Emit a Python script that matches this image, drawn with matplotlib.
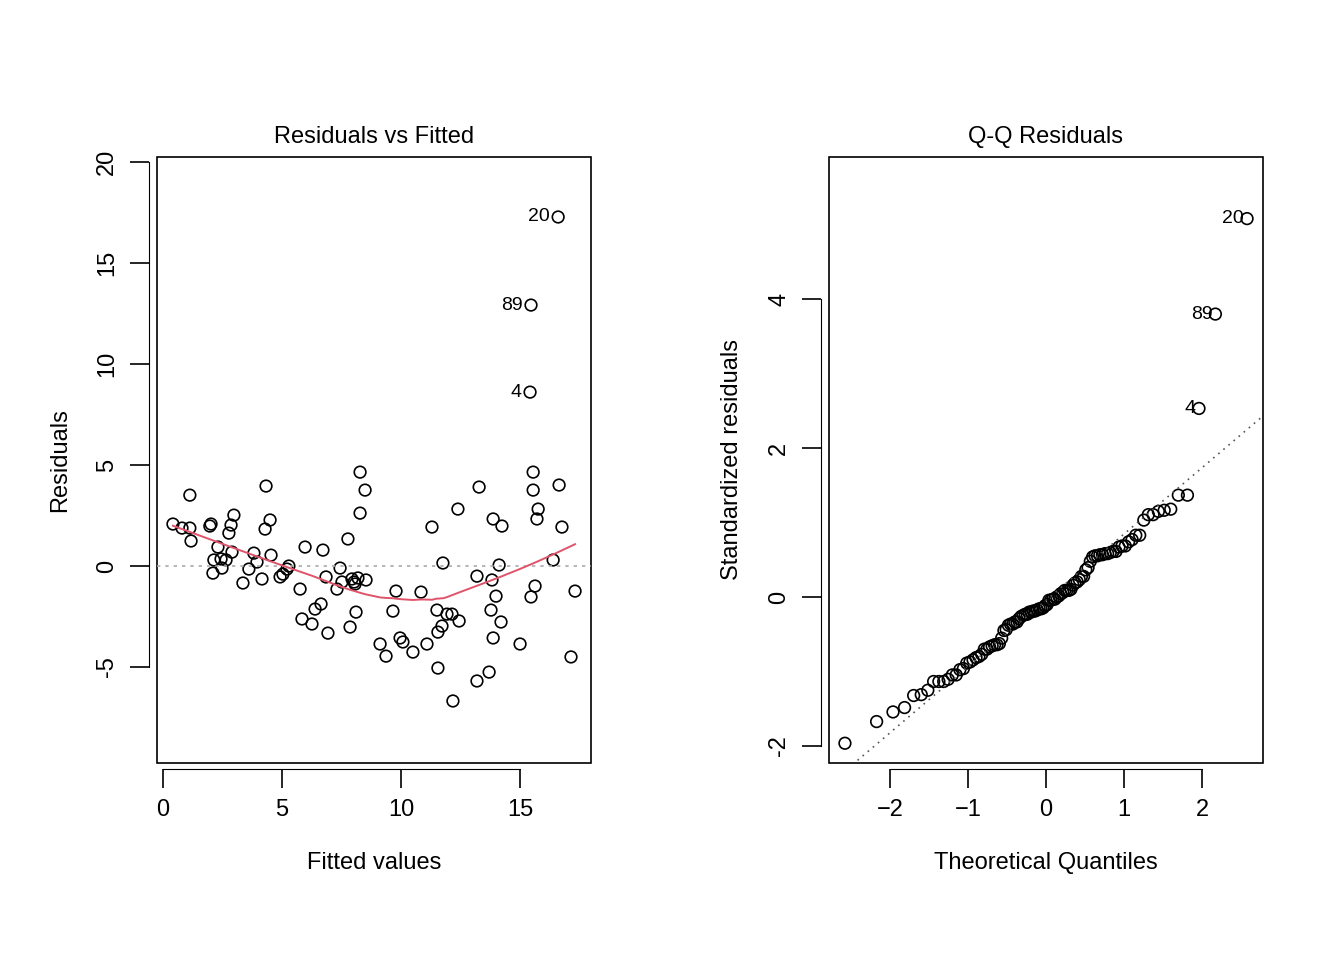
import numpy as np
import matplotlib
matplotlib.use("Agg")
import matplotlib.pyplot as plt
from matplotlib.patches import Rectangle
from statistics import NormalDist

plt.rcParams['font.family'] = ['Liberation Sans', 'DejaVu Sans']

# pixel-read points converted to data units
px = [173,182,190,191,190,210,211,213,214,218,221,222,226,229,231,234,232,243,249,254,257,262,265,266,270,271,280,283,287,289,300,302,305,312,315,321,323,326,328,337,340,342,348,350,352,354,355,356,358,360,360,365,366,
      380,386,393,396,400,403,413,421,427,432,438,437,438,442,443,447,452,453,458,459,477,477,479,489,491,492,493,493,496,499,501,502,520,531,533,533,535,538,537,553,559,562,571,575,
      558,531,530]
py = [525,529,529,542,496,527,525,574,561,548,560,569,561,534,526,516,553,584,570,554,563,580,530,487,521,556,578,575,570,567,590,620,548,625,610,605,551,578,634,590,569,583,540,628,580,583,585,613,579,473,514,491,581,
      645,657,612,592,639,643,653,593,645,528,669,611,633,627,564,615,615,702,510,622,682,577,488,673,611,581,639,520,597,566,623,527,645,598,473,491,587,510,520,561,486,528,658,592,
      218,306,393]
fitted = [round((p - 163) / 23.8, 2) for p in px]
resid = [round((567 - q) / 20.2, 2) for q in py]
fitted = np.array(fitted); resid = np.array(resid)
n = len(resid)
labels = {n - 3: "20", n - 2: "89", n - 1: "4"}

def lowess(x, y, f=2/3, iters=3):
    n = len(x); o = np.argsort(x); x = x[o]; y = y[o]
    k = int(np.ceil(f * n)); rw = np.ones(n); ys = np.zeros(n)
    for it in range(iters + 1):
        for i in range(n):
            d = np.abs(x - x[i]); h = np.sort(d)[k - 1]
            w = np.clip(1 - (d / max(h, 1e-12))**3, 0, 1)**3 * rw
            W = w.sum(); xm = (w*x).sum()/W; ym = (w*y).sum()/W
            sxx = (w*(x-xm)**2).sum()
            b = (w*(x-xm)*(y-ym)).sum()/sxx if sxx > 1e-12 else 0
            ys[i] = ym + b*(x[i]-xm)
        r = y - ys; s = np.median(np.abs(r))
        rw = np.clip(1 - (r/(6*s))**2, 0, 1)**2
    return x, ys

fig = plt.figure(figsize=(13.44, 9.6), dpi=100)

def style(ax, xt, yt):
    for s in ['top', 'right']:
        ax.spines[s].set_visible(False)
    ax.spines['bottom'].set_position(('outward', 4))
    ax.spines['left'].set_position(('outward', 6))
    ax.spines['bottom'].set_bounds(xt[0], xt[-1])
    ax.spines['left'].set_bounds(yt[0], yt[-1])
    ax.set_xticks(xt); ax.set_yticks(yt)
    ax.set_yticklabels([str(v) for v in yt], rotation=90, va='center')
    ax.tick_params(labelsize=17, length=14, width=1.2, pad=8)
    ax.add_patch(Rectangle((0, 0), 1, 1, transform=ax.transAxes, fill=False, lw=1.2, clip_on=False))

ax1 = fig.add_axes([157/1344, 1-763/960, 434/1344, 606/960])
ax1.set_xlim(-0.25, 17.98); ax1.set_ylim(-9.75, 20.25)
ax1.axhline(0, color='#aaaaaa', ls=(0, (2, 3)), lw=1.2)
ax1.scatter(fitted, resid, s=70, facecolors='none', edgecolors='black', lw=1.2)
lx, ly = lowess(fitted, resid)
ax1.plot(lx, ly, color='#DF536B', lw=1.4)
for i, t in labels.items():
    ax1.text(fitted[i] - 0.35, resid[i], t, ha='right', va='center', fontsize=14)
style(ax1, [0, 5, 10, 15], [-5, 0, 5, 10, 15, 20])
ax1.set_title("Residuals vs Fitted", fontsize=17, pad=10)
ax1.set_xlabel("Fitted values", fontsize=17, labelpad=22)
ax1.set_ylabel("Residuals", fontsize=17, labelpad=18)

# Q-Q
sd = 3.4
std = resid / sd
o = np.argsort(std)
pp = [(i + 0.5) / n for i in range(n)]
tq = np.array([NormalDist().inv_cdf(p) for p in pp])
ss = std[o]
ax2 = fig.add_axes([829/1344, 1-763/960, 434/1344, 606/960])
ax2.set_xlim(-2.78, 2.78); ax2.set_ylim(-2.23, 5.91)
q1, q3 = np.percentile(ss, [25, 75])
t1, t3 = NormalDist().inv_cdf(0.25), NormalDist().inv_cdf(0.75)
slope = (q3 - q1) / (t3 - t1); icpt = q1 - slope * t1
xx = np.array([-3, 3])
ax2.plot(xx, icpt + slope * xx, color='#555555', ls=(0, (1, 3)), lw=1.2)
ax2.scatter(tq, ss, s=70, facecolors='none', edgecolors='black', lw=1.2)
rank = {idx: pos for pos, idx in enumerate(o)}
for i, t in labels.items():
    ax2.text(tq[rank[i]] - 0.04, ss[rank[i]], t, ha='right', va='center', fontsize=14)
style(ax2, [-2, -1, 0, 1, 2], [-2, 0, 2, 4])
ax2.set_title("Q-Q Residuals", fontsize=17, pad=10)
ax2.set_xlabel("Theoretical Quantiles", fontsize=17, labelpad=22)
ax2.set_ylabel("Standardized residuals", fontsize=17, labelpad=18)

fig.savefig("out.png", dpi=100)
